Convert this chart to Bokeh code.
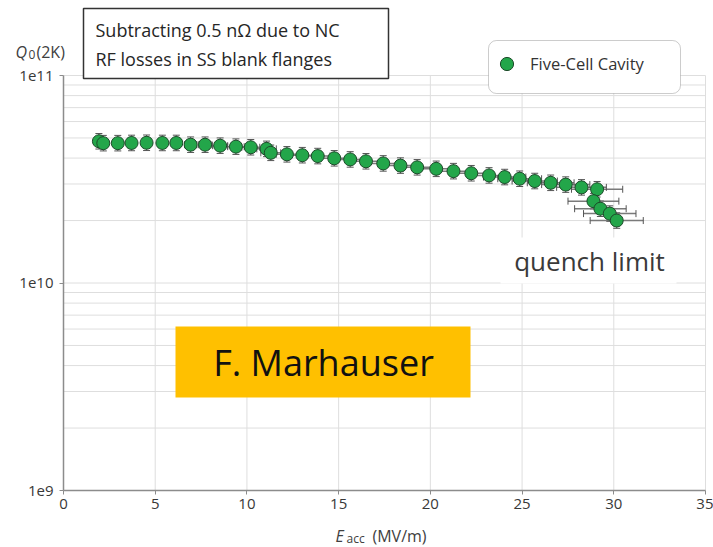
from bokeh.plotting import figure
from bokeh.models import (ColumnDataSource, Whisker, TeeHead, FixedTicker, Label,
                          BoxAnnotation, Legend, LegendItem)
from bokeh.embed import file_html
from bokeh.resources import INLINE

# Accelerating gradient (MV/m) and intrinsic quality factor Q0 at 2 K (units of 1e10)
e_acc = [1.93, 2.17, 2.96, 3.71, 4.53, 5.39, 6.15, 6.93, 7.72, 8.54, 9.40, 10.21,
         11.07, 11.30, 12.18, 13.02, 13.86, 14.76, 15.63, 16.49, 17.43, 18.37, 19.28,
         20.32, 21.26, 22.23, 23.20, 24.05, 24.87, 25.69, 26.56, 27.38, 28.24, 29.09,
         28.89, 29.27, 29.78, 30.16]
q0_e10 = [4.82, 4.72, 4.72, 4.73, 4.74, 4.73, 4.73, 4.64, 4.64, 4.59, 4.54, 4.51,
          4.43, 4.24, 4.17, 4.13, 4.09, 3.99, 3.94, 3.86, 3.77, 3.68, 3.61,
          3.55, 3.46, 3.38, 3.30, 3.24, 3.18, 3.10, 3.04, 2.98, 2.89, 2.83,
          2.48, 2.28, 2.16, 2.00]

# relative measurement uncertainties
q_rel_err = 0.09
e_rel_err = 0.048

x_ticks = [0, 5, 10, 15, 20, 25, 30, 35]
y_ticks = [1e9, 1e10, 1e11]
y_tick_labels = ["1e9", "1e10", "1e11"]
y_minor = [m * d for d in (1e9, 1e10) for m in range(2, 10)]

X_MIN, X_MAX = 0, 35
Y_MIN, Y_MAX = 1e9, 1e11

FONT = "Open Sans"
W, H = 713, 547
# pixel box of the plotting area inside the canvas
L, R, T, B = 63, 705, 75, 490
DECADES = 2.0


def dx(px):
    return X_MIN + (px - L) / (R - L) * (X_MAX - X_MIN)


def dy(py):
    return 10 ** (11 - (py - T) / (B - T) * DECADES)


q0 = [v * 1e10 for v in q0_e10]
src = ColumnDataSource(dict(
    e=e_acc, q=q0,
    q_lo=[v / (1 + q_rel_err) for v in q0], q_hi=[v * (1 + q_rel_err) for v in q0],
    e_lo=[v * (1 - e_rel_err) for v in e_acc], e_hi=[v * (1 + e_rel_err) for v in e_acc],
))

# frame spans the whole canvas; axes are pinned at x=0 and y=1e9
p = figure(width=W, height=H, x_range=(dx(0), dx(W)), y_range=(dy(H), dy(0)),
           y_axis_type="log", output_backend="svg", toolbar_location=None,
           min_border=0, min_border_left=0, min_border_right=0, min_border_top=0,
           min_border_bottom=0)
p.outline_line_color = None
p.background_fill_color = "white"
p.border_fill_color = "white"
p.xgrid.visible = False
p.ygrid.visible = False

p.xaxis.ticker = FixedTicker(ticks=x_ticks)
p.yaxis.ticker = FixedTicker(ticks=y_ticks)
p.yaxis.major_label_overrides = {t: s for t, s in zip(y_ticks, y_tick_labels)}
p.xaxis.fixed_location = Y_MIN
p.yaxis.fixed_location = X_MIN
p.xaxis.bounds = (X_MIN, X_MAX)
p.yaxis.bounds = (Y_MIN, Y_MAX)
for ax in (p.xaxis[0], p.yaxis[0]):
    ax.axis_line_color = "#8c8c8c"
    ax.axis_line_width = 1.5
    ax.major_tick_line_color = "#8c8c8c"
    ax.major_tick_out = 4
    ax.major_tick_in = 0
    ax.minor_tick_line_color = None
    ax.major_label_text_font = FONT
    ax.major_label_text_font_size = "15px"
    ax.major_label_text_color = "#383838"
p.xaxis.major_label_standoff = 4
p.yaxis.major_label_standoff = 6

# grid lines limited to the plotting area
grid_y = sorted(y_ticks + y_minor)
p.segment(x0=[X_MIN] * len(grid_y), x1=[X_MAX] * len(grid_y), y0=grid_y, y1=grid_y,
          line_color="#dedede", line_width=1, level="image")
p.segment(x0=x_ticks[1:], x1=x_ticks[1:], y0=[Y_MIN] * (len(x_ticks) - 1),
          y1=[Y_MAX] * (len(x_ticks) - 1), line_color="#dedede", line_width=1, level="image")

# error bars
p.add_layout(Whisker(source=src, base="e", lower="q_lo", upper="q_hi", dimension="height",
                     line_color="#555555", line_width=1,
                     lower_head=TeeHead(size=7, line_color="#555555"),
                     upper_head=TeeHead(size=7, line_color="#555555")))
p.add_layout(Whisker(source=src, base="q", lower="e_lo", upper="e_hi", dimension="width",
                     line_color="#7a7a7a", line_width=1.5,
                     lower_head=TeeHead(size=7, line_color="#555555"),
                     upper_head=TeeHead(size=7, line_color="#555555")))

pts = p.scatter("e", "q", source=src, size=13, fill_color="#23a64a",
                line_color="#1d4a2a", line_width=1)

# note box
p.add_layout(BoxAnnotation(left=dx(83), right=dx(388), top=dy(8), bottom=dy(78),
                           fill_color="white", fill_alpha=1, line_color="#333333",
                           line_width=1.5, line_alpha=1))
for txt, py in (("Subtracting 0.5 n\u03a9 due to NC", 29), ("RF losses in SS blank flanges", 58)):
    p.add_layout(Label(x=dx(95), y=dy(py), text=txt, text_font=FONT, text_font_size="18px",
                       text_color="#262626", text_baseline="middle", text_align="left"))

# y-axis title Q0(2K)
p.add_layout(Label(x=dx(15), y=dy(51), text="Q", text_font=FONT, text_font_style="italic",
                   text_font_size="16px", text_color="#404040", text_baseline="alphabetic"))
p.add_layout(Label(x=dx(28), y=dy(54), text="0", text_font=FONT,
                   text_font_size="12px", text_color="#404040", text_baseline="alphabetic"))
p.add_layout(Label(x=dx(36), y=dy(51), text="(2K)", text_font=FONT,
                   text_font_size="16px", text_color="#404040", text_baseline="alphabetic"))

# x-axis title E_acc (MV/m)
p.add_layout(Label(x=dx(335), y=dy(535), text="E", text_font=FONT, text_font_style="italic",
                   text_font_size="16px", text_color="#404040", text_baseline="alphabetic"))
p.add_layout(Label(x=dx(346), y=dy(538), text="acc", text_font=FONT,
                   text_font_size="12px", text_color="#404040", text_baseline="alphabetic"))
p.add_layout(Label(x=dx(372), y=dy(535), text="(MV/m)", text_font=FONT,
                   text_font_size="16px", text_color="#404040", text_baseline="alphabetic"))

# quench limit note
p.add_layout(BoxAnnotation(left=dx(500), right=dx(676), top=dy(237), bottom=dy(283),
                           fill_color="white", fill_alpha=1, line_color=None))
p.add_layout(Label(x=dx(589), y=dy(260), text="quench limit", text_font=FONT,
                   text_font_size="26px", text_color="#3a3a3a", text_align="center",
                   text_baseline="middle"))

# author tag
p.add_layout(BoxAnnotation(left=dx(175), right=dx(470), top=dy(326), bottom=dy(397),
                           fill_color="#ffc000", fill_alpha=1, line_color=None))
p.add_layout(Label(x=dx(323), y=dy(362), text="F. Marhauser", text_font=FONT,
                   text_font_size="36px", text_color="#111111", text_align="center",
                   text_baseline="middle"))

# legend
p.add_layout(BoxAnnotation(left=dx(488), right=dx(680), top=dy(40), bottom=dy(93),
                           fill_color="white", fill_alpha=1, line_color="#555555",
                           line_width=1, border_radius=8))
legend = Legend(items=[LegendItem(label="Five-Cell Cavity", renderers=[pts])],
                location=(490, H - 80), border_line_color=None,
                background_fill_alpha=0, padding=4, glyph_width=33, glyph_height=33,
                label_standoff=7, label_text_font=FONT, label_text_font_size="16.5px",
                label_text_color="#333333", label_height=33, margin=0)
p.add_layout(legend, "center")

open("out.html", "w").write(file_html(p, INLINE))
